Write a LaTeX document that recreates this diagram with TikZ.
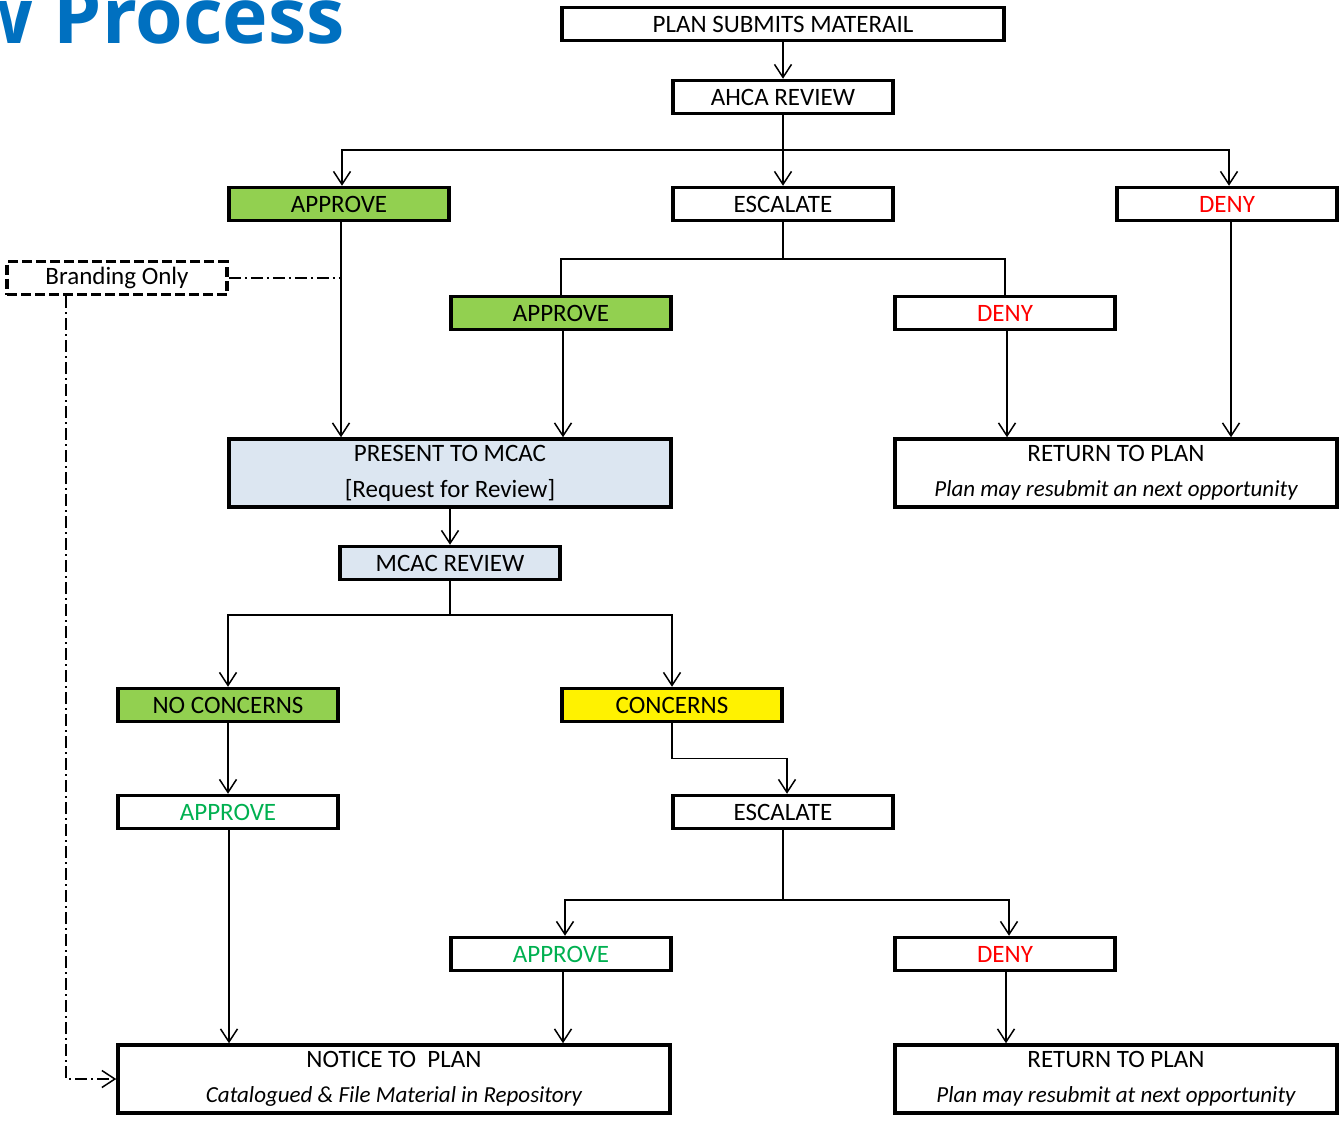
\documentclass[tikz,border=0pt]{standalone}
\usepackage{fontspec}
\setmainfont{Carlito}
\newfontfamily\titlefont{Open Sans}
\usetikzlibrary{arrows.meta}
\definecolor{okgreen}{HTML}{92D050}
\definecolor{txtgreen}{HTML}{00B050}
\definecolor{paleblue}{HTML}{DCE6F1}
\definecolor{titleblue}{HTML}{0070C0}
\newcommand{\subtxt}{\fontsize{23}{27}\selectfont\itshape}
\tikzset{
  box/.style={draw,line width=3.5pt,minimum width=220pt,minimum height=33pt,inner sep=0pt,font=\fontsize{25}{30}\selectfont},
  widebox/.style={box,minimum width=552pt,minimum height=68pt,align=center},
  link/.style={line width=1.5pt},
  arr/.style={link,-{Straight Barb[length=13pt,width=17pt,line width=1.5pt]}},
  dashdot/.style={line width=1.5pt,dash pattern=on 12pt off 4pt on 2pt off 4pt}
}
\begin{document}
\begin{tikzpicture}[x=1pt,y=-1pt]
\useasboundingbox (0,0) rectangle (1344,1120);
\node[anchor=base east,inner sep=0pt,text=titleblue,font=\titlefont\bfseries\fontsize{77}{86}\selectfont] (title) at (345,43) {w Process};
% first review
\node[box,minimum width=442pt] (submit) at (783,24) {PLAN SUBMITS MATERAIL};
\node[box] (ahca) at (783,97) {AHCA REVIEW};
\node[box,fill=okgreen] (apprA) at (339,204) {APPROVE};
\node[box] (esc) at (783,204) {ESCALATE};
\node[box,text=red] (denyA) at (1227,204) {DENY};
\node[box,dash pattern=on 10pt off 4pt] (brand) at (117,278) {Branding Only};
\node[box,fill=okgreen] (apprB) at (561,313) {APPROVE};
\node[box,text=red] (denyB) at (1005,313) {DENY};
\node[widebox,minimum width=442pt,fill=paleblue] (present) at (450,473) {PRESENT TO MCAC\\[6pt][Request for Review]};
\node[widebox,minimum width=442pt] (returnA) at (1116,473) {RETURN TO PLAN\\[5pt]{\subtxt Plan may resubmit an next opportunity}};
% MCAC
\node[box,fill=paleblue] (mcac) at (450,563) {MCAC REVIEW};
\node[box,fill=okgreen] (nocon) at (228,705) {NO CONCERNS};
\node[box,fill=yellow] (con) at (672,705) {CONCERNS};
\node[box,text=txtgreen] (apprC) at (228,812) {APPROVE};
\node[box] (escB) at (783,812) {ESCALATE};
\node[box,text=txtgreen] (apprD) at (561,954) {APPROVE};
\node[box,text=red] (denyC) at (1005,954) {DENY};
\node[widebox] (notice) at (394,1079) {NOTICE TO~~PLAN\\[5pt]{\subtxt Catalogued \& File Material in Repository}};
\node[widebox,minimum width=442pt] (returnB) at (1116,1079) {RETURN TO PLAN\\[5pt]{\subtxt Plan may resubmit at next opportunity}};
% connectors
\draw[arr] (submit) -- (ahca);
\coordinate (busA) at (783,150);
\draw[link] (ahca) -- (busA);
\draw[arr] (busA) -| ([xshift=3pt]apprA.north);
\draw[arr] (busA) -- (esc);
\draw[arr] (busA) -| ([xshift=2pt]denyA.north);
\coordinate (busB) at (783,259);
\draw[link] (esc) -- (busB);
\draw[link] (busB) -| (apprB.north);
\draw[link] (busB) -| (denyB.north);
\draw[arr] ([xshift=2pt]apprA.south) -- ([xshift=2pt]apprA.south |- present.north);
\draw[arr] ([xshift=2pt]apprB.south) -- ([xshift=2pt]apprB.south |- present.north);
\draw[arr] ([xshift=2pt]denyB.south) -- ([xshift=2pt]denyB.south |- returnA.north);
\draw[arr] ([xshift=4pt]denyA.south) -- ([xshift=4pt]denyA.south |- returnA.north);
\draw[dashdot] (brand.east) -- ([xshift=2pt]brand.east -| apprA.south);
\draw[dashdot,-{Straight Barb[length=13pt,width=17pt,line width=1.5pt]}] ([xshift=-51pt]brand.south) |- (notice.west);
\draw[arr] (present) -- (mcac);
\coordinate (busC) at (450,615);
\draw[link] (mcac) -- (busC);
\draw[arr] (busC) -| (nocon.north);
\draw[arr] (busC) -| (con.north);
\draw[arr] (nocon) -- (apprC);
\draw[arr] (con.south) -- ++(0,35) -| ([xshift=4pt]escB.north);
\coordinate (busD) at (783,900);
\draw[link] (escB) -- (busD);
\draw[arr] (busD) -| ([xshift=4pt]apprD.north);
\draw[arr] (busD) -| ([xshift=4pt]denyC.north);
\draw[arr] ([xshift=1pt]apprC.south) -- ([xshift=1pt]apprC.south |- notice.north);
\draw[arr] ([xshift=2pt]apprD.south) -- ([xshift=2pt]apprD.south |- notice.north);
\draw[arr] ([xshift=1pt]denyC.south) -- ([xshift=1pt]denyC.south |- returnB.north);
\end{tikzpicture}
\end{document}
